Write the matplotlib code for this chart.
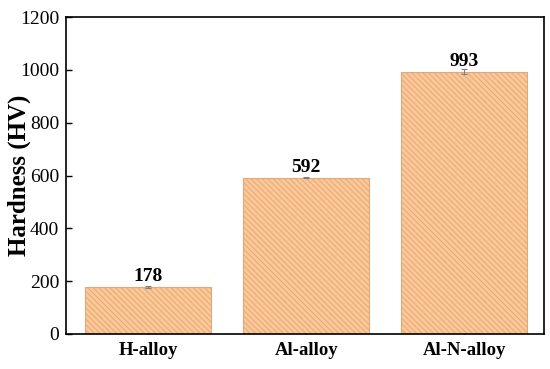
import matplotlib
matplotlib.use("Agg")
import matplotlib.pyplot as plt

plt.rcParams["font.family"] = ["Liberation Serif", "DejaVu Serif"]
plt.rcParams["hatch.color"] = "#e9a878"
plt.rcParams["hatch.linewidth"] = 0.7

alloys = ["H-alloy", "Al-alloy", "Al-N-alloy"]
hardness = [178, 592, 993]
errors = [4, 2, 10]

fig = plt.figure(figsize=(5.5, 3.69), dpi=100)
ax = fig.add_axes([66 / 550, 1 - 334 / 369, 478 / 550, 317 / 369])

x = range(len(alloys))
ax.bar(x, hardness, width=0.8, color="#fcc896", edgecolor="#e3a87a",
       linewidth=0.8, hatch="\\" * 6, zorder=2)
ax.errorbar(x, hardness, yerr=errors, fmt="none", ecolor="#808080",
            elinewidth=0.8, capsize=2.5, capthick=0.8, zorder=3)
for xi, v in zip(x, hardness):
    ax.text(xi, v + 8, str(v), ha="center", va="bottom",
            fontsize=14, fontweight="bold")

ax.set_xlim(-0.52, 2.505)
ax.set_ylim(0, 1200)
ax.set_xticks(list(x))
ax.set_xticklabels(alloys, fontsize=13.5, fontweight="bold")
ax.set_yticks(range(0, 1201, 200))
ax.tick_params(axis="y", labelsize=14, direction="in", length=4, width=1, pad=5)
ax.tick_params(axis="x", direction="in", length=4, width=1, pad=6)
ax.set_ylabel("Hardness (HV)", fontsize=18, fontweight="bold")
ax.yaxis.set_label_coords(-0.073, 0.5)
for s in ax.spines.values():
    s.set_linewidth(1.2)

fig.savefig("out.png", dpi=100, facecolor="white")
